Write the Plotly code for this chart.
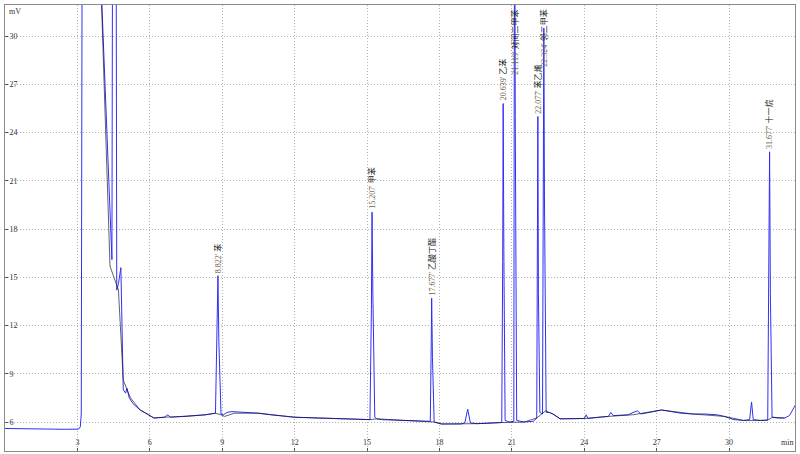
import plotly.graph_objects as go

# ---- chromatogram trace (time in min, signal in mV) ----
trace_t = [0.0, 0.5, 1.0, 1.5, 2.0, 2.5, 3.05, 3.12, 3.16, 3.20, 3.98,
           4.00, 4.43, 4.46, 4.60, 4.63, 4.70, 4.80, 4.90, 5.00, 5.05, 5.15, 5.30, 5.60,
           5.96, 6.17, 6.60, 6.75, 6.85, 7.50, 8.30, 8.72, 8.80, 8.822, 8.86, 8.95,
           9.05, 9.20, 9.40, 10.0, 10.5, 11.0, 12.0, 13.0, 14.0, 15.0, 15.12, 15.18,
           15.207, 15.24, 15.32, 15.40, 15.60, 16.5, 17.5, 17.62, 17.66, 17.677, 17.71,
           17.78, 18.07, 18.90, 19.05, 19.17, 19.28, 19.55, 20.30, 20.58, 20.62, 20.639,
           20.67, 20.72, 20.90, 21.08, 21.10, 21.119, 21.14, 21.20, 21.50, 21.90, 22.03,
           22.06, 22.077, 22.10, 22.16, 22.27, 22.30, 22.324, 22.35, 22.42, 22.55, 22.70,
           23.0, 23.5, 24.0, 24.08, 24.15, 24.6, 25.0, 25.1, 25.2, 25.8, 26.2, 26.35,
           26.8, 27.2, 27.6, 28.0, 28.5, 29.0, 29.5, 29.8, 30.2, 30.6, 30.85, 30.93,
           31.0, 31.3, 31.6, 31.64, 31.677, 31.71, 31.78, 32.0, 32.3, 32.5, 32.7, 32.8]
trace_mv = [5.60, 5.58, 5.57, 5.56, 5.56, 5.55, 5.56, 5.70, 6.50, 40.0, 40.0,
            32.5, 16.1, 40.0, 40.0, 14.2, 14.6, 15.6, 8.0, 7.8, 8.1, 7.5, 7.15, 6.75,
            6.45, 6.25, 6.30, 6.45, 6.30, 6.35, 6.45, 6.55, 12.0, 15.1, 11.0, 6.50,
            6.45, 6.60, 6.65, 6.60, 6.55, 6.45, 6.30, 6.25, 6.20, 6.12, 6.15, 13.0,
            19.05, 14.0, 6.30, 6.20, 6.15, 6.10, 6.05, 6.05, 11.0, 13.7, 10.0,
            6.00, 5.88, 5.88, 5.95, 6.80, 5.95, 5.90, 5.95, 5.97, 16.0, 25.8,
            16.0, 6.10, 6.00, 6.05, 30.0, 40.0, 25.0, 6.10, 6.00, 6.05, 6.25,
            18.0, 25.0, 14.0, 6.60, 6.50, 20.0, 30.5, 20.0, 6.60, 6.60, 6.50,
            6.20, 6.20, 6.22, 6.45, 6.22, 6.30, 6.35, 6.60, 6.40, 6.45, 6.70, 6.50,
            6.65, 6.75, 6.65, 6.55, 6.50, 6.50, 6.45, 6.35, 6.15, 6.10, 6.15, 7.25,
            6.15, 6.10, 6.12, 14.0, 22.8, 14.0, 6.30, 6.25, 6.25, 6.40, 6.90, 7.20]

# ---- integration baseline (black) ----
base_t = [4.00, 4.35, 4.70, 4.90, 5.20, 5.60, 5.96, 6.17, 6.60, 7.50, 8.30, 8.72,
          8.95, 9.10, 9.50, 10.5, 12.0, 14.0, 15.12, 15.40, 17.62, 17.80, 18.10,
          19.55, 20.58, 21.50, 22.03, 22.40, 22.55, 22.70, 23.0, 24.0, 25.0, 26.0,
          27.2, 28.5, 29.8, 30.6, 31.3, 31.6, 31.80, 32.3]
base_mv = [32.0, 15.7, 14.2, 8.6, 7.5, 6.75, 6.45, 6.25, 6.30, 6.35, 6.45, 6.55,
           6.45, 6.35, 6.55, 6.55, 6.30, 6.20, 6.15, 6.20, 6.05, 6.00, 5.88,
           5.90, 5.97, 6.00, 6.25, 6.70, 6.60, 6.50, 6.20, 6.22, 6.35, 6.45,
           6.75, 6.50, 6.35, 6.10, 6.10, 6.12, 6.30, 6.25]

# ---- peak labels ----
peak_times = [8.822, 15.207, 17.677, 20.639, 21.119, 22.077, 22.324, 31.677]
peak_time_labels = ["8.822'", "15.207'", "17.677'", "20.639'", "21.119'", "22.077'", "22.324'", "31.677'"]
peak_names = ["苯", "甲苯", "乙酸丁酯", "乙苯", "对间二甲苯", "苯乙烯", "邻二甲苯", "十一烷"]
peak_heights = [15.1, 19.05, 13.7, 25.8, 40.0, 25.0, 30.5, 22.8]

x_ticks = [3, 6, 9, 12, 15, 18, 21, 24, 27, 30]
y_ticks = [6, 9, 12, 15, 18, 21, 24, 27, 30]
x_range = [0, 32.73]
y_range = [4.2, 31.93]

fig = go.Figure()
fig.add_trace(go.Scatter(x=trace_t, y=trace_mv, mode="lines",
                         line=dict(color="#3030f5", width=1), hoverinfo="skip"))
fig.add_trace(go.Scatter(x=base_t, y=base_mv, mode="lines",
                         line=dict(color="rgba(20,20,40,0.75)", width=0.9), hoverinfo="skip"))

label_font = "Liberation Serif, Noto Sans CJK SC"
annotations = []
for t, tl, nm, h in zip(peak_times, peak_time_labels, peak_names, peak_heights):
    txt = f"<span style='color:#6b5f45'>{tl}</span> {nm}"
    if h + 3.9 > y_range[1]:
        annotations.append(dict(x=t, y=y_range[1] - 0.15, xref="x", yref="y", text=txt,
                                textangle=-90, showarrow=False, xanchor="center", yanchor="top",
                                font=dict(family=label_font, size=8, color="#222")))
    else:
        annotations.append(dict(x=t, y=h, xref="x", yref="y", text=txt, yshift=1,
                                textangle=-90, showarrow=False, xanchor="center", yanchor="bottom",
                                font=dict(family=label_font, size=8, color="#222")))

annotations.append(dict(x=0.013, y=0.985, xref="paper", yref="paper", text="mV",
                        showarrow=False, xanchor="center", yanchor="middle",
                        font=dict(family="Liberation Serif", size=8, color="#333")))
annotations.append(dict(x=0.99, y=0.018, xref="paper", yref="paper", text="min",
                        showarrow=False, xanchor="center", yanchor="middle",
                        font=dict(family="Liberation Serif", size=8, color="#333")))

axis_common = dict(ticklabelposition="inside", ticks="inside", ticklen=3, tickcolor="#555",
                   showgrid=True, gridcolor="#b0b0b0", griddash="1px,2px", gridwidth=1,
                   zeroline=False, showline=True, linecolor="#8a8a8a", linewidth=1, mirror=True,
                   tickfont=dict(family="Liberation Serif", size=8, color="#333"))

fig.update_layout(
    width=800, height=454,
    margin=dict(l=5, r=5, t=5, b=3),
    plot_bgcolor="white", paper_bgcolor="white",
    showlegend=False,
    hovermode=False,
    annotations=annotations,
    xaxis=dict(range=x_range, tickvals=x_ticks, ticktext=[str(v) for v in x_ticks], **axis_common),
    yaxis=dict(range=y_range, tickvals=y_ticks, ticktext=[str(v) for v in y_ticks], **axis_common),
)

fig.write_html("out.html", config={"displayModeBar": False},
               post_script="document.body.style.margin='0px';")
